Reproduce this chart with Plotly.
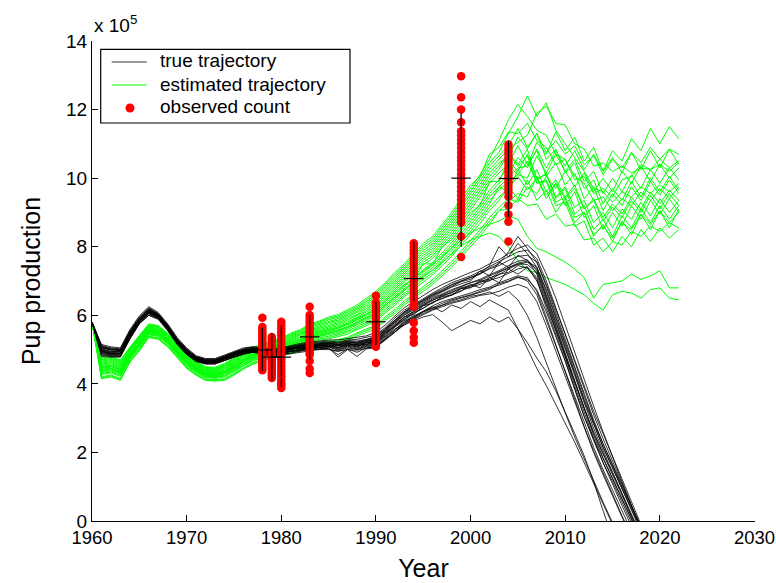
import plotly.graph_objects as go

years = list(range(1960, 2023))

# ---- true trajectories (x 10^5), yearly from 1960 ----
B01 = [5.80, 5.05, 5.00, 4.98, 5.50, 5.90, 6.18, 6.02, 5.70, 5.30,
       5.00, 4.78, 4.70, 4.70, 4.80, 4.90, 5.00, 5.05, 5.02, 4.96,
       5.02, 5.08, 5.12, 5.15, 5.18, 5.20, 5.15, 5.22, 5.20, 5.25,
       5.32, 5.55, 5.80, 6.02, 6.18, 6.35, 6.52, 6.62, 6.75, 6.85,
       6.95, 7.05, 7.18, 7.30, 7.45, 7.58, 7.62, 7.30, 6.55, 5.80,
       5.05, 4.25, 3.45, 2.70, 2.05, 1.45, 0.80, 0.15, -0.45]
B02 = [5.80, 4.85, 4.82, 4.80, 5.35, 5.78, 6.05, 5.92, 5.58, 5.18,
       4.88, 4.68, 4.60, 4.60, 4.68, 4.80, 4.88, 4.95, 4.90, 4.82,
       4.88, 4.95, 4.98, 5.02, 5.05, 5.02, 4.95, 5.05, 5.00, 5.08,
       5.12, 5.32, 5.55, 5.80, 5.95, 6.12, 6.28, 6.40, 6.48, 6.55,
       6.65, 6.75, 6.82, 6.95, 7.05, 7.15, 7.10, 6.70, 5.95, 5.15,
       4.35, 3.55, 2.75, 2.05, 1.40, 0.80, 0.15, -0.45]
B03 = [5.80, 5.12, 5.05, 5.02, 5.55, 5.95, 6.22, 6.05, 5.72, 5.32,
       5.02, 4.80, 4.72, 4.72, 4.82, 4.92, 5.02, 5.08, 5.05, 5.00,
       5.05, 5.10, 5.15, 5.20, 5.22, 5.25, 5.22, 5.28, 5.30, 5.35,
       5.42, 5.65, 5.92, 6.15, 6.32, 6.50, 6.65, 6.80, 6.95, 7.05,
       7.15, 7.28, 7.42, 7.55, 7.70, 7.85, 7.90, 7.65, 7.00, 6.25,
       5.45, 4.65, 3.85, 3.10, 2.40, 1.75, 1.10, 0.45, -0.20]
B04 = [5.80, 4.98, 4.90, 4.95, 5.42, 5.85, 6.10, 6.00, 5.62, 5.22,
       4.92, 4.72, 4.65, 4.65, 4.78, 4.88, 4.95, 4.98, 4.92, 4.85,
       4.95, 5.05, 5.02, 5.12, 5.08, 5.15, 5.05, 5.18, 5.10, 5.20,
       5.22, 5.48, 5.68, 5.95, 6.02, 6.28, 6.35, 6.55, 6.58, 6.78,
       6.80, 6.98, 7.00, 7.20, 7.25, 7.45, 7.38, 7.05, 6.20, 5.45,
       4.70, 3.85, 3.05, 2.35, 1.70, 1.15, 0.55, -0.05]
B05 = [5.80, 4.90, 4.85, 4.85, 5.38, 5.80, 6.08, 5.95, 5.60, 5.20,
       4.90, 4.70, 4.62, 4.62, 4.72, 4.82, 4.92, 4.98, 4.95, 4.88,
       4.92, 4.98, 5.02, 5.05, 5.05, 5.08, 5.00, 5.10, 5.05, 5.12,
       5.18, 5.38, 5.60, 5.72, 5.85, 5.95, 6.02, 5.80, 5.55, 5.70,
       5.85, 5.75, 5.95, 5.80, 5.95, 5.60, 5.20, 4.75, 4.35, 3.80,
       3.20, 2.55, 1.90, 1.15, 0.30, -0.50]
B06 = [5.80, 5.08, 5.02, 5.00, 5.48, 5.88, 6.15, 6.02, 5.68, 5.28,
       4.98, 4.78, 4.70, 4.68, 4.78, 4.90, 4.98, 5.02, 4.98, 4.92,
       5.00, 5.05, 5.10, 5.12, 5.15, 5.18, 5.12, 5.20, 5.18, 5.25,
       5.30, 5.58, 5.85, 6.08, 6.25, 6.42, 6.58, 6.70, 6.85, 6.98,
       7.05, 7.22, 7.45, 8.00, 7.70, 8.10, 7.80, 7.40, 6.70, 5.95,
       5.15, 4.35, 3.55, 2.85, 2.15, 1.55, 0.95, 0.30, -0.30]
B07 = [5.80, 4.80, 4.78, 4.78, 5.30, 5.75, 6.00, 5.90, 5.55, 5.15,
       4.85, 4.65, 4.58, 4.58, 4.68, 4.78, 4.88, 4.92, 4.88, 4.80,
       4.85, 4.92, 4.95, 5.00, 5.02, 5.05, 4.85, 5.02, 4.92, 5.05,
       5.08, 5.28, 5.52, 5.75, 5.92, 6.10, 6.22, 6.35, 6.45, 6.52,
       6.60, 6.70, 6.78, 6.88, 6.98, 7.10, 7.05, 6.75, 6.10, 5.40,
       4.65, 3.85, 3.05, 2.40, 1.80, 1.25, 0.65, 0.05, -0.50]
B08 = [5.80, 5.02, 4.95, 4.92, 5.45, 5.88, 6.12, 5.98, 5.66, 5.26,
       4.96, 4.76, 4.66, 4.66, 4.76, 4.86, 4.96, 5.00, 4.96, 4.90,
       4.98, 5.00, 5.08, 5.08, 5.12, 5.10, 5.12, 5.14, 5.15, 5.20,
       5.28, 5.50, 5.75, 5.95, 6.10, 6.28, 6.42, 6.58, 6.65, 6.80,
       6.88, 6.95, 7.10, 7.18, 7.35, 7.48, 7.55, 7.35, 6.60, 5.85,
       5.10, 4.30, 3.50, 2.80, 2.15, 1.55, 0.95, 0.35, -0.25]
B09 = [5.80, 4.95, 4.88, 4.90, 5.40, 5.82, 6.08, 5.96, 5.62, 5.22,
       4.92, 4.72, 4.64, 4.62, 4.74, 4.84, 4.92, 4.96, 4.92, 4.86,
       4.94, 5.00, 5.06, 5.08, 5.10, 5.14, 5.06, 5.16, 5.12, 5.16,
       5.24, 5.42, 5.70, 5.90, 6.08, 6.20, 6.38, 6.48, 6.60, 6.70,
       6.90, 6.80, 7.10, 6.95, 7.35, 7.20, 7.40, 7.00, 6.30, 5.55,
       4.80, 4.00, 3.25, 2.55, 1.95, 1.40, 0.80, 0.20, -0.40]
B10 = [5.80, 5.15, 5.08, 5.05, 5.58, 5.98, 6.25, 6.08, 5.75, 5.35,
       5.05, 4.82, 4.74, 4.74, 4.84, 4.95, 5.05, 5.08, 5.05, 4.98,
       5.05, 5.12, 5.18, 5.22, 5.25, 5.28, 5.28, 5.32, 5.35, 5.40,
       5.50, 5.72, 5.98, 6.22, 6.40, 6.58, 6.75, 6.90, 7.02, 7.15,
       7.25, 7.35, 7.50, 7.62, 7.80, 7.95, 8.05, 7.80, 7.20, 6.50,
       5.70, 4.90, 4.10, 3.35, 2.60, 1.85, 1.15, 0.45, -0.25]
B11 = [5.80, 4.92, 4.86, 4.86, 5.36, 5.80, 6.06, 5.94, 5.60, 5.20,
       4.90, 4.70, 4.62, 4.62, 4.72, 4.82, 4.90, 4.95, 4.92, 4.85,
       4.90, 4.96, 5.00, 5.04, 5.06, 5.08, 4.98, 5.08, 5.02, 5.10,
       5.15, 5.35, 5.58, 5.82, 5.95, 6.10, 6.20, 6.30, 6.38, 6.45,
       6.55, 6.60, 6.68, 6.55, 6.70, 6.45, 6.00, 5.35, 4.60, 3.85,
       3.15, 2.45, 1.80, 1.15, 0.55, -0.05]
B12 = [5.80, 5.00, 4.94, 4.96, 5.46, 5.86, 6.14, 6.00, 5.66, 5.26,
       4.96, 4.74, 4.66, 4.66, 4.76, 4.88, 4.96, 5.00, 4.96, 4.90,
       4.96, 5.02, 5.06, 5.10, 5.12, 5.12, 5.10, 5.16, 5.14, 5.20,
       5.26, 5.48, 5.72, 5.94, 6.12, 6.30, 6.45, 6.55, 6.68, 6.78,
       6.85, 7.00, 7.05, 7.25, 7.38, 7.50, 7.48, 7.25, 6.50, 5.70,
       4.90, 4.10, 3.30, 2.60, 1.95, 1.35, 0.75, 0.10, -0.50]
B13 = [5.80, 4.88, 4.84, 4.82, 5.32, 5.76, 6.02, 5.92, 5.58, 5.18,
       4.88, 4.68, 4.60, 4.60, 4.70, 4.80, 4.88, 4.94, 4.90, 4.82,
       4.86, 4.94, 4.96, 5.02, 5.00, 5.05, 4.78, 5.00, 4.80, 5.02,
       5.05, 5.30, 5.50, 5.78, 5.90, 6.05, 6.18, 6.30, 6.42, 6.50,
       6.58, 6.68, 6.75, 6.92, 7.00, 7.12, 7.00, 6.60, 5.85, 5.10,
       4.35, 3.60, 2.85, 2.15, 1.50, 0.90, 0.30, -0.30]
B14 = [5.80, 5.05, 4.98, 4.98, 5.50, 5.90, 6.16, 6.02, 5.68, 5.28,
       4.98, 4.76, 4.68, 4.70, 4.80, 4.90, 5.00, 5.04, 5.00, 4.94,
       5.00, 5.06, 5.10, 5.16, 5.16, 5.20, 5.18, 5.24, 5.22, 5.28,
       5.36, 5.60, 5.86, 6.10, 6.28, 6.45, 6.60, 6.72, 6.88, 7.00,
       7.10, 7.20, 7.38, 7.50, 7.85, 8.30, 7.95, 7.55, 6.85, 6.10,
       5.30, 4.50, 3.70, 2.95, 2.25, 1.60, 1.00, 0.40, -0.20]
B15 = [5.80, 4.96, 4.90, 4.88, 5.40, 5.84, 6.10, 5.96, 5.62, 5.22,
       4.92, 4.72, 4.64, 4.64, 4.74, 4.84, 4.94, 4.98, 4.94, 4.88,
       4.96, 5.02, 5.04, 5.08, 5.10, 5.10, 5.06, 5.12, 5.10, 5.16,
       5.22, 5.45, 5.68, 5.88, 6.05, 6.22, 6.38, 6.50, 6.62, 6.72,
       6.82, 6.90, 7.02, 7.10, 7.22, 7.35, 7.42, 7.10, 6.35, 5.60,
       4.80, 3.95, 3.15, 2.40, 1.70, 1.05, 0.45, -0.15]
B16 = [5.80, 5.10, 5.02, 5.00, 5.52, 5.92, 6.20, 6.04, 5.70, 5.30,
       5.00, 4.78, 4.70, 4.70, 4.80, 4.92, 5.00, 5.04, 5.02, 4.96,
       5.02, 5.08, 5.12, 5.18, 5.20, 5.22, 5.20, 5.26, 5.25, 5.30,
       5.38, 5.62, 5.88, 6.10, 6.28, 6.45, 6.62, 6.75, 6.90, 7.00,
       7.10, 7.22, 7.35, 7.45, 7.60, 7.72, 7.75, 7.55, 6.90, 6.20,
       5.45, 4.70, 3.95, 3.20, 2.55, 1.90, 1.25, 0.55, -0.10]
B17 = [5.80, 4.84, 4.80, 4.80, 5.32, 5.76, 6.00, 5.88, 5.55, 5.16,
       4.86, 4.66, 4.58, 4.58, 4.68, 4.78, 4.86, 4.92, 4.88, 4.80,
       4.84, 4.90, 4.94, 4.98, 5.00, 5.00, 4.95, 5.00, 4.98, 5.04,
       5.10, 5.30, 5.52, 5.72, 5.88, 6.02, 6.15, 6.25, 6.35, 6.42,
       6.50, 6.58, 6.62, 6.70, 6.82, 6.90, 6.80, 6.40, 5.70, 4.95,
       4.20, 3.45, 2.70, 2.00, 1.35, 0.75, 0.10, -0.50]
B18 = [5.80, 5.00, 4.92, 4.94, 5.44, 5.86, 6.12, 5.98, 5.64, 5.24,
       4.94, 4.74, 4.66, 4.64, 4.76, 4.86, 4.94, 4.98, 4.94, 4.88,
       4.96, 5.02, 5.06, 5.10, 5.14, 5.16, 5.14, 5.18, 5.16, 5.22,
       5.30, 5.52, 5.78, 6.00, 6.15, 6.32, 6.48, 6.60, 6.72, 6.82,
       6.95, 7.02, 7.15, 7.28, 7.40, 7.52, 7.58, 7.40, 6.75, 6.00,
       5.20, 4.45, 3.65, 2.90, 2.25, 1.65, 1.05, 0.45, -0.15]
B19 = [5.80, 5.08, 5.00, 4.98, 5.50, 5.90, 6.18, 6.02, 5.68, 5.28,
       4.98, 4.76, 4.68, 4.68, 4.78, 4.90, 4.98, 5.02, 4.98, 4.92,
       4.98, 5.04, 5.08, 5.14, 5.14, 5.18, 5.15, 5.22, 5.20, 5.26,
       5.34, 5.55, 5.82, 6.05, 6.22, 6.40, 6.55, 6.68, 6.82, 6.92,
       7.00, 7.30, 7.15, 7.55, 7.40, 7.75, 7.60, 7.20, 6.45, 5.65,
       4.85, 4.05, 3.25, 2.50, 1.85, 1.25, 0.65, 0.05, -0.55]
B20 = [5.80, 4.94, 4.88, 4.90, 5.40, 5.82, 6.08, 5.94, 5.60, 5.20,
       4.90, 4.70, 4.62, 4.64, 4.72, 4.84, 4.92, 4.96, 4.92, 4.84,
       4.90, 4.98, 5.00, 5.06, 5.06, 5.10, 5.02, 5.12, 5.08, 5.14,
       5.20, 5.40, 5.65, 5.85, 5.98, 6.12, 6.25, 6.10, 6.30, 6.20,
       6.40, 6.25, 6.45, 6.30, 6.15, 5.60, 5.00, 4.45, 3.95, 3.40,
       2.85, 2.30, 1.70, 1.10, 0.50, -0.10]

# ---- estimated trajectories (x 10^5), yearly from 1960 ----
G01 = [5.80, 4.75, 4.80, 4.70, 5.07, 5.40, 5.75, 5.70, 5.48, 5.18,
       4.85, 4.65, 4.50, 4.48, 4.60, 4.75, 4.93, 5.07, 5.17, 5.25,
       5.33, 5.48, 5.58, 5.75, 5.83, 5.95, 6.02, 6.17, 6.30, 6.50,
       6.70, 6.95, 7.25, 7.50, 7.80, 8.10, 8.30, 8.65, 9.00, 9.40,
       9.80, 10.05, 10.70, 10.90, 11.35, 11.30, 11.60, 11.10, 10.90, 10.40,
       10.55, 9.95, 10.05, 9.55, 9.70, 9.45, 9.95, 10.05, 10.40, 10.25,
       10.55, 10.30, 10.50]
G02 = [5.80, 4.15, 4.20, 4.10, 4.63, 4.96, 5.35, 5.30, 5.08, 4.78,
       4.45, 4.25, 4.10, 4.08, 4.10, 4.25, 4.43, 4.57, 4.67, 4.75,
       4.83, 4.88, 4.98, 5.05, 5.13, 5.15, 5.22, 5.27, 5.40, 5.50,
       5.60, 5.85, 6.05, 6.30, 6.50, 6.70, 6.90, 7.15, 7.40, 7.70,
       8.00, 8.30, 8.65, 9.05, 9.10, 9.40, 9.20, 9.25, 8.80, 8.95,
       8.60, 8.65, 8.20, 8.25, 7.85, 8.15, 8.05, 8.45, 8.30, 8.60,
       8.45, 8.70, 8.55]
G03 = [5.80, 4.60, 4.65, 4.55, 4.96, 5.29, 5.65, 5.60, 5.38, 5.08,
       4.75, 4.55, 4.40, 4.38, 4.48, 4.62, 4.80, 4.95, 5.05, 5.12,
       5.20, 5.33, 5.43, 5.58, 5.65, 5.75, 5.82, 5.95, 6.08, 6.25,
       6.42, 6.68, 6.95, 7.20, 7.48, 7.75, 7.95, 8.28, 8.60, 8.98,
       9.35, 9.72, 10.15, 10.45, 10.60, 11.20, 10.85, 11.30, 10.75, 11.10,
       10.70, 10.95, 10.40, 10.65, 10.10, 10.55, 10.30, 10.75, 10.45, 10.90,
       10.55, 10.85, 10.70]
G04 = [5.80, 4.30, 4.35, 4.25, 4.74, 5.07, 5.45, 5.40, 5.18, 4.88,
       4.55, 4.35, 4.20, 4.18, 4.23, 4.38, 4.55, 4.70, 4.80, 4.88,
       4.95, 5.03, 5.13, 5.22, 5.30, 5.35, 5.42, 5.50, 5.62, 5.75,
       5.88, 6.12, 6.35, 6.60, 6.82, 7.05, 7.25, 7.52, 7.80, 8.12,
       8.45, 8.78, 9.15, 9.45, 9.68, 10.05, 9.65, 10.00, 9.50, 9.85,
       9.40, 9.70, 9.10, 9.40, 8.85, 9.25, 8.95, 9.45, 9.10, 9.60,
       9.25, 9.65, 9.35]
G05 = [5.80, 4.45, 4.50, 4.40, 4.85, 5.18, 5.55, 5.50, 5.28, 4.98,
       4.65, 4.45, 4.30, 4.28, 4.35, 4.50, 4.68, 4.82, 4.92, 5.00,
       5.08, 5.18, 5.28, 5.40, 5.48, 5.55, 5.62, 5.72, 5.85, 6.00,
       6.15, 6.40, 6.65, 6.90, 7.05, 7.50, 7.50, 8.00, 8.20, 8.55,
       8.90, 9.25, 9.65, 9.95, 10.35, 10.10, 10.50, 9.85, 9.95, 9.30,
       9.45, 8.85, 9.00, 8.35, 8.60, 8.25, 8.70, 8.50, 8.95, 8.65,
       9.05, 8.70, 9.00]
G06 = [5.80, 4.69, 4.74, 4.64, 5.03, 5.36, 5.71, 5.66, 5.44, 5.14,
       4.81, 4.61, 4.46, 4.44, 4.55, 4.70, 4.88, 5.02, 5.12, 5.20,
       5.28, 5.42, 5.52, 5.68, 5.76, 5.87, 5.94, 6.08, 6.21, 6.40,
       6.59, 6.84, 7.13, 7.38, 7.67, 7.96, 8.16, 8.50, 8.84, 9.23,
       9.62, 10.01, 10.45, 10.75, 11.30, 11.80, 12.40, 11.80, 12.20, 11.40,
       11.00, 10.60, 10.20, 9.70, 9.60, 9.30, 9.60, 9.45, 9.75, 9.55,
       9.80, 9.60, 9.85]
G07 = [5.80, 4.21, 4.26, 4.16, 4.67, 5.00, 5.39, 5.34, 5.12, 4.82,
       4.49, 4.29, 4.14, 4.12, 4.15, 4.30, 4.48, 4.62, 4.72, 4.80,
       4.88, 4.94, 5.04, 5.12, 5.20, 5.23, 5.30, 5.36, 5.49, 5.60,
       5.71, 5.96, 6.17, 6.42, 6.63, 6.84, 7.04, 7.30, 7.56, 7.87,
       8.18, 8.49, 8.85, 9.15, 9.40, 9.30, 9.75, 9.55, 10.05, 9.70,
       10.20, 9.75, 10.15, 9.60, 10.00, 9.60, 10.20, 9.85, 10.35, 9.90,
       10.40, 10.00, 10.30]
G08 = [5.80, 4.54, 4.59, 4.49, 4.92, 5.25, 5.61, 5.56, 5.34, 5.04,
       4.71, 4.51, 4.36, 4.34, 4.43, 4.58, 4.75, 4.90, 5.00, 5.08,
       5.16, 5.27, 5.37, 5.50, 5.58, 5.67, 5.74, 5.86, 5.99, 6.15,
       6.32, 6.57, 6.83, 7.08, 7.35, 7.61, 7.81, 8.12, 8.44, 8.80,
       9.17, 9.53, 9.95, 10.25, 10.70, 10.35, 10.65, 9.85, 9.90, 9.20,
       9.30, 8.60, 8.75, 8.05, 8.25, 7.85, 8.30, 8.00, 8.50, 8.15,
       8.55, 8.25, 8.50]
G09 = [5.80, 4.36, 4.41, 4.31, 4.78, 5.11, 5.49, 5.44, 5.22, 4.92,
       4.59, 4.39, 4.24, 4.22, 4.28, 4.43, 4.60, 4.75, 4.85, 4.93,
       5.00, 5.09, 5.19, 5.30, 5.38, 5.43, 5.50, 5.59, 5.72, 5.85,
       5.99, 6.24, 6.47, 6.72, 6.96, 7.19, 7.39, 7.68, 7.96, 8.30,
       8.63, 8.97, 9.35, 9.65, 9.90, 10.10, 10.00, 10.65, 10.15, 10.70,
       10.20, 10.55, 9.90, 10.20, 9.55, 10.00, 9.60, 10.10, 9.70, 10.25,
       9.85, 10.30, 9.95]
G10 = [5.80, 4.48, 4.53, 4.43, 4.87, 5.20, 5.57, 5.52, 5.30, 5.00,
       4.67, 4.47, 4.32, 4.30, 4.38, 4.53, 4.70, 4.85, 4.95, 5.03,
       5.11, 5.21, 5.31, 5.44, 5.52, 5.59, 5.66, 5.77, 5.90, 6.05,
       6.21, 6.46, 6.71, 6.96, 7.22, 7.47, 7.67, 7.98, 8.28, 8.64,
       8.99, 9.20, 9.90, 9.90, 10.50, 10.20, 10.70, 10.00, 10.10, 9.45,
       9.75, 9.15, 9.35, 8.70, 9.00, 8.55, 9.10, 8.80, 9.30, 8.90,
       9.40, 9.00, 9.35]
G11 = [5.80, 4.42, 4.47, 4.37, 4.83, 5.16, 5.53, 5.48, 5.26, 4.96,
       4.63, 4.43, 4.28, 4.26, 4.33, 4.48, 4.65, 4.80, 4.90, 4.98,
       5.05, 5.15, 5.25, 5.37, 5.45, 5.51, 5.58, 5.67, 5.80, 5.95,
       6.10, 6.35, 6.59, 6.84, 7.09, 7.33, 7.53, 7.83, 8.12, 8.47,
       8.81, 9.15, 9.55, 9.85, 10.10, 10.60, 10.30, 10.85, 10.30, 10.80,
       10.35, 10.80, 10.25, 10.70, 10.20, 10.80, 10.50, 11.15, 10.80, 11.45,
       11.00, 11.50, 11.15]
G12 = [5.80, 4.63, 4.68, 4.58, 4.98, 5.31, 5.67, 5.62, 5.40, 5.10,
       4.77, 4.57, 4.42, 4.40, 4.50, 4.65, 4.83, 4.97, 5.07, 5.15,
       5.23, 5.36, 5.46, 5.61, 5.69, 5.79, 5.86, 5.99, 6.12, 6.30,
       6.48, 6.73, 7.01, 7.26, 7.54, 7.82, 8.02, 8.35, 8.68, 9.06,
       9.44, 9.82, 10.25, 10.55, 10.85, 11.05, 11.25, 11.90, 12.10, 11.60,
       11.55, 11.00, 10.85, 10.35, 10.45, 10.20, 10.35, 10.15, 10.30, 10.25,
       10.40, 10.20, 10.45]
G13 = [5.80, 4.27, 4.32, 4.22, 4.72, 5.05, 5.43, 5.38, 5.16, 4.86,
       4.53, 4.33, 4.18, 4.16, 4.20, 4.35, 4.53, 4.67, 4.77, 4.85,
       4.93, 5.00, 5.10, 5.19, 5.27, 5.31, 5.38, 5.45, 5.58, 5.70,
       5.82, 6.07, 6.29, 6.54, 6.76, 6.98, 7.18, 7.45, 7.72, 8.04,
       8.36, 8.68, 9.05, 9.35, 9.75, 9.40, 9.95, 9.35, 9.65, 9.00,
       9.40, 8.70, 9.00, 8.30, 8.65, 8.15, 8.75, 8.35, 8.95, 8.50,
       9.05, 8.55, 9.10]
G14 = [5.80, 4.72, 4.77, 4.67, 5.05, 5.38, 5.73, 5.68, 5.46, 5.16,
       4.83, 4.63, 4.48, 4.46, 4.57, 4.72, 4.90, 5.05, 5.15, 5.22,
       5.30, 5.45, 5.55, 5.72, 5.80, 5.91, 5.98, 6.12, 6.25, 6.45,
       6.65, 6.90, 7.19, 7.44, 7.74, 8.03, 8.23, 8.58, 8.92, 9.32,
       9.71, 10.10, 10.55, 11.10, 11.70, 12.15, 11.80, 11.40, 11.25, 10.70,
       10.55, 10.05, 9.85, 9.35, 9.45, 9.05, 9.40, 9.20, 9.60, 9.35,
       9.70, 9.40, 9.75]
G15 = [5.80, 4.18, 4.23, 4.13, 4.65, 4.98, 5.37, 5.32, 5.10, 4.80,
       4.47, 4.27, 4.12, 4.10, 4.13, 4.28, 4.45, 4.60, 4.70, 4.78,
       4.85, 4.91, 5.01, 5.08, 5.17, 5.19, 5.26, 5.32, 5.45, 5.55,
       5.66, 5.91, 6.11, 6.36, 6.57, 6.77, 6.97, 7.22, 7.48, 7.78,
       8.09, 8.40, 8.75, 9.05, 9.30, 9.55, 9.45, 10.05, 9.40, 9.85,
       9.20, 9.60, 8.85, 9.20, 8.50, 9.00, 8.60, 9.20, 8.80, 9.35,
       8.95, 9.40, 9.00]
G16 = [5.80, 4.51, 4.56, 4.46, 4.89, 5.22, 5.59, 5.54, 5.32, 5.02,
       4.69, 4.49, 4.34, 4.32, 4.40, 4.55, 4.73, 4.87, 4.97, 5.05,
       5.13, 5.24, 5.34, 5.47, 5.55, 5.63, 5.70, 5.81, 5.94, 6.10,
       6.26, 6.51, 6.77, 7.02, 7.28, 7.54, 7.74, 8.05, 8.36, 8.72,
       9.08, 9.44, 9.85, 10.15, 10.41, 10.95, 10.40, 10.80, 10.05, 10.45,
       9.80, 10.15, 9.40, 9.75, 9.05, 9.55, 9.20, 9.75, 9.35, 9.90,
       9.50, 9.95, 9.55]
G17 = [5.80, 4.39, 4.44, 4.34, 4.81, 5.14, 5.51, 5.46, 5.24, 4.94,
       4.61, 4.41, 4.26, 4.24, 4.30, 4.45, 4.63, 4.77, 4.87, 4.95,
       5.03, 5.12, 5.22, 5.33, 5.41, 5.47, 5.54, 5.63, 5.76, 5.90,
       6.04, 6.29, 6.53, 6.78, 7.02, 7.26, 7.46, 7.75, 8.04, 8.38,
       8.72, 9.06, 9.45, 9.75, 10.00, 10.30, 10.35, 11.05, 10.70, 11.35,
       10.80, 11.20, 10.50, 10.90, 10.20, 10.60, 10.15, 10.75, 10.25, 10.80,
       10.30, 10.85, 10.40]
G18 = [5.80, 4.57, 4.62, 4.52, 4.94, 5.27, 5.63, 5.58, 5.36, 5.06,
       4.73, 4.53, 4.38, 4.36, 4.45, 4.60, 4.78, 4.92, 5.02, 5.10,
       5.18, 5.30, 5.40, 5.54, 5.62, 5.71, 5.78, 5.90, 6.03, 6.20,
       6.37, 6.62, 6.89, 7.14, 7.41, 7.68, 7.88, 8.20, 8.52, 8.89,
       9.26, 9.63, 10.05, 10.35, 10.75, 10.40, 10.85, 9.95, 10.15, 9.40,
       9.70, 8.95, 9.20, 8.50, 8.80, 8.30, 8.90, 8.55, 9.10, 8.70,
       9.20, 8.80, 9.20]
G19 = [5.80, 4.33, 4.38, 4.28, 4.76, 5.09, 5.47, 5.42, 5.20, 4.90,
       4.57, 4.37, 4.22, 4.20, 4.25, 4.40, 4.58, 4.72, 4.82, 4.90,
       4.98, 5.06, 5.16, 5.26, 5.34, 5.39, 5.46, 5.54, 5.67, 5.80,
       5.93, 6.18, 6.41, 6.66, 6.89, 7.12, 7.32, 7.60, 7.88, 8.21,
       8.54, 8.87, 9.25, 9.75, 9.60, 10.25, 9.80, 10.25, 9.60, 9.95,
       9.45, 9.80, 9.10, 9.35, 8.75, 9.15, 8.85, 9.35, 9.00, 9.50,
       9.10, 9.55, 9.20]
G20 = [5.80, 4.66, 4.71, 4.61, 5.00, 5.33, 5.69, 5.64, 5.42, 5.12,
       4.79, 4.59, 4.44, 4.42, 4.53, 4.68, 4.85, 5.00, 5.10, 5.17,
       5.26, 5.39, 5.49, 5.65, 5.73, 5.83, 5.90, 6.03, 6.17, 6.35,
       6.54, 6.79, 7.07, 7.32, 7.61, 7.89, 8.09, 8.43, 8.76, 9.15,
       9.53, 9.92, 10.35, 10.65, 10.95, 11.45, 10.90, 11.30, 10.55, 10.85,
       10.15, 10.45, 9.70, 9.95, 9.25, 9.70, 9.35, 9.90, 9.45, 10.00,
       9.60, 10.05, 9.65]
G21 = [5.80, 4.47, 4.52, 4.42, 4.86, 5.19, 5.56, 5.51, 5.29, 4.99,
       4.66, 4.46, 4.31, 4.29, 4.37, 4.52, 4.70, 4.84, 4.94, 5.02,
       5.10, 5.20, 5.30, 5.42, 5.50, 5.57, 5.64, 5.74, 5.87, 6.02,
       6.17, 6.42, 6.66, 6.88, 7.10, 7.30, 7.48, 7.72, 7.95, 8.20,
       8.40, 8.55, 8.65, 8.75, 8.90, 8.80, 8.30, 7.95, 7.85, 7.70,
       7.55, 7.35, 7.10, 6.50, 6.90, 6.95, 7.00, 7.20, 7.05, 7.15,
       7.30, 6.80, 6.80]
G22 = [5.80, 4.40, 4.45, 4.35, 4.82, 5.15, 5.52, 5.47, 5.25, 4.95,
       4.62, 4.42, 4.27, 4.25, 4.32, 4.47, 4.65, 4.79, 4.89, 4.97,
       5.04, 5.13, 5.23, 5.35, 5.43, 5.49, 5.56, 5.65, 5.78, 5.92,
       6.06, 6.30, 6.52, 6.75, 6.96, 7.15, 7.32, 7.55, 7.78, 8.02,
       8.20, 8.30, 8.40, 8.30, 8.00, 7.60, 7.30, 7.25, 7.10, 7.00,
       6.90, 6.75, 6.60, 6.35, 6.15, 6.60, 6.70, 6.65, 6.50, 6.75,
       6.80, 6.50, 6.45]

# ---- observed counts (x 10^5) ----
obs_years = [1978, 1979, 1980, 1983, 1990, 1994, 1999, 2004]
obs_1978 = [5.93, 5.66, 5.58, 5.50, 5.42, 5.35, 5.28, 5.20, 5.13, 5.06, 5.00,
            4.94, 4.88, 4.82, 4.76, 4.70, 4.64, 4.58, 4.52, 4.46, 4.40]
obs_1979 = [5.37, 5.30, 5.23, 5.16, 5.09, 5.02, 4.96, 4.90, 4.84, 4.78,
            4.72, 4.66, 4.60, 4.53, 4.46, 4.39, 4.32, 4.25, 4.17]
obs_1980 = [5.81, 5.72, 5.62, 5.52, 5.42, 5.32, 5.22, 5.12, 5.02, 4.92, 4.82,
            4.72, 4.62, 4.52, 4.42, 4.32, 4.22, 4.12, 4.02, 3.95, 3.88]
obs_1983 = [6.25, 6.01, 5.93, 5.85, 5.77, 5.69, 5.61, 5.53, 5.45, 5.37,
            5.29, 5.21, 5.13, 5.05, 4.97, 4.90, 4.85, 4.67, 4.44, 4.32]
obs_1990 = [6.57, 6.37, 6.28, 6.19, 6.10, 6.01, 5.92, 5.83, 5.74, 5.65,
            5.56, 5.47, 5.38, 5.29, 5.20, 5.12, 5.08, 4.61]
obs_1994 = [8.10, 8.00, 7.90, 7.80, 7.70, 7.60, 7.50, 7.40, 7.30, 7.20, 7.10,
            7.00, 6.90, 6.80, 6.70, 6.60, 6.50, 6.40, 6.30, 6.25, 5.78, 5.55,
            5.35, 5.20]
obs_1999 = [12.97, 12.36, 12.00, 11.63, 11.37, 11.25, 11.12, 11.00, 10.88,
            10.75, 10.62, 10.50, 10.38, 10.25, 10.12, 10.00, 9.88, 9.75, 9.62,
            9.50, 9.38, 9.25, 9.12, 9.00, 8.88, 8.75, 8.70, 8.30, 7.70]
obs_2004 = [10.98, 10.88, 10.78, 10.68, 10.58, 10.48, 10.38, 10.28, 10.18,
            10.08, 9.98, 9.88, 9.78, 9.68, 9.58, 9.46, 9.20, 8.94, 8.73, 8.15]
obs_means = [4.99, 4.78, 4.78, 5.37, 5.81, 7.07, 10.00, 9.99]
obs_err_up = [0.65, 0.70, 0.92, 0.63, 0.59, 1.10, 1.90, 1.11]
obs_err_down = [0.62, 0.68, 0.88, 0.67, 0.68, 0.67, 2.00, 1.12]

y_ticks = [0, 2, 4, 6, 8, 10, 12, 14]
x_ticks = [1960, 1970, 1980, 1990, 2000, 2010, 2020, 2030]
legend_labels = ["true trajectory", "estimated trajectory", "observed count"]

true_trajectories = [B01, B02, B03, B04, B05, B06, B07, B08, B09, B10,
                     B11, B12, B13, B14, B15, B16, B17, B18, B19, B20]
est_trajectories = [G01, G02, G03, G04, G05, G06, G07, G08, G09, G10, G11,
                    G12, G13, G14, G15, G16, G17, G18, G19, G20, G21, G22]
obs_counts = [obs_1978, obs_1979, obs_1980, obs_1983, obs_1990, obs_1994,
              obs_1999, obs_2004]

FONT = "Liberation Sans, Arial, sans-serif"
W, H = 776, 583
ML, MR, MT, MB = 92, 21, 41, 62
PW, PH = W - ML - MR, H - MT - MB


def px_x(p):
    """screen pixel x -> paper coordinate"""
    return (p - ML) / PW


def px_y(p):
    """screen pixel y -> paper coordinate"""
    return (MT + PH - p) / PH


fig = go.Figure()

for i, g in enumerate(est_trajectories):
    fig.add_trace(go.Scatter(
        x=years[:len(g)], y=g, mode="lines",
        line=dict(color="#00ff00", width=1),
        name=legend_labels[1], showlegend=False, hoverinfo="skip"))

for i, b in enumerate(true_trajectories):
    fig.add_trace(go.Scatter(
        x=years[:len(b)], y=b, mode="lines",
        line=dict(color="#000000", width=0.8),
        name=legend_labels[0], showlegend=False, hoverinfo="skip"))

ox, oy = [], []
for yr, vals in zip(obs_years, obs_counts):
    ox += [yr] * len(vals)
    oy += vals
fig.add_trace(go.Scatter(
    x=ox, y=oy, mode="markers",
    marker=dict(color="#ff0000", size=8.5),
    name=legend_labels[2], showlegend=False))

fig.add_trace(go.Scatter(
    x=obs_years, y=obs_means, mode="markers",
    marker=dict(symbol="line-ew", size=14, color="black",
                line=dict(color="black", width=1.2)),
    error_y=dict(type="data", symmetric=False, array=obs_err_up,
                 arrayminus=obs_err_down, color="black", thickness=1.2,
                 width=0),
    showlegend=False, hoverinfo="skip"))

# ---- legend box drawn as shapes + text ----
shapes = [
    dict(type="rect", xref="paper", yref="paper",
         x0=px_x(100.7), x1=px_x(350), y0=px_y(123), y1=px_y(49.3),
         line=dict(color="black", width=1.2), fillcolor="white",
         layer="above"),
    dict(type="line", xref="paper", yref="paper",
         x0=px_x(111.7), x1=px_x(146.7), y0=px_y(62), y1=px_y(62),
         line=dict(color="#333333", width=1), layer="above"),
    dict(type="line", xref="paper", yref="paper",
         x0=px_x(111.7), x1=px_x(146.7), y0=px_y(85), y1=px_y(85),
         line=dict(color="#00ff00", width=1), layer="above"),
    dict(type="circle", xref="paper", yref="paper",
         x0=px_x(125.5), x1=px_x(134.5), y0=px_y(112.5), y1=px_y(103.5),
         line=dict(color="#ff0000", width=0), fillcolor="#ff0000",
         layer="above"),
]
annotations = [
    dict(text=lab, xref="paper", yref="paper", x=px_x(158), y=px_y(py),
         xanchor="left", yanchor="middle", showarrow=False,
         font=dict(family=FONT, size=19, color="black"))
    for lab, py in zip(legend_labels, [61, 84, 107])
]
annotations.append(
    dict(text="x 10<sup>5</sup>", xref="paper", yref="paper",
         x=0, y=1, xanchor="left", yanchor="bottom",
         showarrow=False, yshift=3,
         font=dict(family=FONT, size=19, color="black")))

axis_common = dict(
    showgrid=False, zeroline=False, showline=True, linecolor="black",
    linewidth=1, ticks="inside", ticklen=6, tickcolor="black", tickwidth=1,
    mirror=False, ticklabeloverflow="allow", automargin=False)

fig.update_layout(
    width=W, height=H,
    margin=dict(l=ML, r=MR, t=MT, b=MB),
    plot_bgcolor="white", paper_bgcolor="white",
    font=dict(family=FONT, color="black"),
    xaxis=dict(range=[1960, 2030.05], tickvals=x_ticks,
               tickfont=dict(family=FONT, size=18.5, color="black"),
               title=dict(text="Year", font=dict(family=FONT, size=25),
                          standoff=12),
               **axis_common),
    yaxis=dict(range=[0, 14], tickvals=y_ticks, ticklabelstandoff=0,
               tickfont=dict(family=FONT, size=19, color="black"),
               title=dict(text="Pup production", font=dict(family=FONT, size=25),
                          standoff=18),
               **axis_common),
    shapes=shapes,
    annotations=annotations,
    showlegend=False,
)

# remove the default 8px page margin so the figure fills the window exactly
fig.write_html(
    "out.html",
    config={"displayModeBar": False},
    post_script="document.body.style.margin='0';"
                "document.body.style.overflow='hidden';")
